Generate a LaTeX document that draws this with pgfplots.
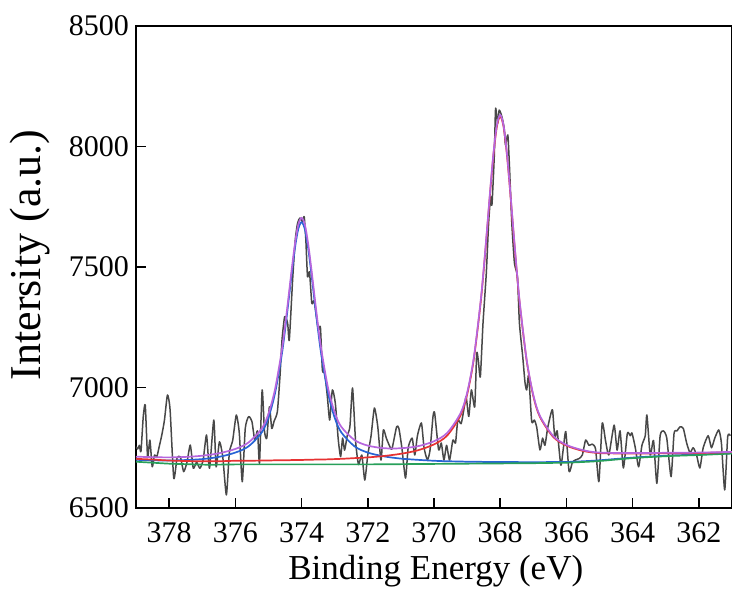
\documentclass[border=0pt]{standalone}
\usepackage{fontspec}
\setmainfont{Liberation Serif}
\usepackage{pgfplots}
\pgfplotsset{compat=1.18}
\usepackage{pgfplotstable}
\definecolor{dataGray}{RGB}{72,72,72}
\definecolor{fitPurple}{RGB}{182,102,222}
\definecolor{fitRed}{RGB}{230,50,50}
\definecolor{fitBlue}{RGB}{40,100,212}
\definecolor{fitGreen}{RGB}{40,160,90}

\pgfplotstableread{
x y
379.00 6754
378.95 6745
378.90 6760
378.85 6735
378.78 6880
378.72 6927
378.65 6713
378.58 6782
378.51 6671
378.44 6720
378.37 6713
378.30 6754
378.22 6803
378.14 6865
378.05 6969
377.97 6907
377.86 6624
377.76 6707
377.66 6712
377.56 6651
377.46 6690
377.36 6761
377.27 6665
377.17 6690
377.07 6665
376.97 6700
376.87 6803
376.78 6665
376.65 6865
376.58 6671
376.48 6775
376.38 6713
376.27 6554
376.18 6730
376.08 6780
375.97 6886
375.88 6811
375.79 6609
375.70 6830
375.60 6879
375.50 6860
375.41 6780
375.33 6820
375.27 6686
375.19 6990
375.12 6820
375.05 6790
374.97 6920
374.90 6830
374.83 6860
374.73 6900
374.65 7050
374.59 7197
374.51 7294
374.42 7267
374.37 7197
374.27 7446
374.19 7612
374.12 7682
374.05 7703
373.97 7688
373.92 7709
373.87 7612
373.82 7460
373.76 7480
373.69 7350
373.62 7360
373.55 7294
373.49 7239
373.43 7250
373.37 7072
373.30 7060
373.22 6962
373.15 6865
373.07 6990
372.98 6935
372.89 6782
372.82 6713
372.76 6790
372.70 6740
372.62 6800
372.54 6837
372.46 6998
372.37 6780
372.28 6680
372.18 6720
372.09 6616
372.00 6720
371.90 6800
371.80 6915
371.70 6840
371.60 6699
371.53 6824
371.44 6790
371.35 6760
371.27 6745
371.13 6837
371.06 6830
370.97 6750
370.86 6624
370.78 6750
370.66 6790
370.58 6720
370.50 6800
370.38 6853
370.30 6750
370.20 6700
370.12 6740
370.03 6879
369.98 6894
369.86 6741
369.78 6770
369.70 6699
369.62 6760
369.53 6699
369.43 6782
369.35 6770
369.28 6865
369.18 6850
369.10 6907
369.03 6962
368.95 6880
368.87 6990
368.77 6920
368.71 7142
368.66 7110
368.60 7045
368.52 7266
368.42 7475
368.35 7682
368.29 7792
368.25 7757
368.18 7958
368.14 8158
368.08 8096
368.03 8151
367.95 8124
367.88 8075
367.84 8006
367.77 8048
367.72 7916
367.65 7682
367.57 7516
367.48 7460
367.42 7267
367.32 7128
367.25 7019
367.20 6990
367.14 7050
367.05 6860
366.97 6865
366.90 6837
366.80 6741
366.72 6790
366.65 6760
366.57 6830
366.49 6880
366.42 6907
366.35 6790
366.28 6820
366.17 6678
366.10 6740
366.02 6817
365.92 6651
365.82 6690
365.72 6700
365.62 6705
365.52 6720
365.42 6782
365.32 6760
365.22 6765
365.12 6745
365.02 6609
364.92 6851
364.82 6780
364.72 6720
364.56 6844
364.47 6740
364.38 6820
364.28 6666
364.16 6810
364.07 6800
364.02 6811
363.92 6750
363.82 6671
363.72 6760
363.62 6800
363.57 6886
363.47 6720
363.37 6780
363.27 6602
363.17 6800
363.07 6820
362.97 6790
362.84 6630
362.75 6810
362.66 6820
362.57 6837
362.47 6830
362.37 6770
362.27 6730
362.17 6750
362.07 6720
361.97 6666
361.87 6750
361.72 6800
361.62 6750
361.52 6790
361.40 6824
361.32 6770
361.22 6575
361.13 6796
361.05 6800
}\rawdata

\pgfplotstableread{
x blue red purple green
379.0 6700 6704 6713 6692
378.5 6698 6701 6711 6688
378.0 6697 6697 6710 6684
377.5 6699 6695 6712 6682
377.0 6703 6694 6717 6680
376.5 6712 6694 6727 6680
376.0 6730 6696 6745 6681
375.6 6756 6696 6772 6681
375.2 6814 6697 6830 6681
375.0 6875 6697 6891 6681
374.8 6977 6698 6993 6681
374.6 7134 6698 7151 6681
374.5 7236 6698 7253 6681
374.4 7350 6698 7368 6681
374.3 7469 6699 7487 6681
374.2 7578 6699 7595 6681
374.1 7657 6699 7675 6681
374.0 7686 6699 7704 6681
373.9 7657 6700 7676 6681
373.8 7578 6700 7596 6681
373.7 7469 6700 7488 6681
373.6 7350 6701 7370 6681
373.5 7236 6701 7256 6681
373.4 7134 6701 7155 6681
373.2 6977 6702 6998 6681
373.0 6875 6703 6897 6681
372.8 6814 6704 6837 6681
372.4 6756 6707 6782 6681
372.0 6730 6710 6759 6681
371.5 6714 6716 6748 6681.5
371.0 6705 6725 6748 6682
370.5 6700 6739 6756 6682.5
370.0 6696 6764 6777 6683
369.6 6694 6801 6812 6683.4
369.2 6693 6884 6893 6683.8
369.0 6692 6970 6978 6684
368.8 6692 7115 7122 6684.2
368.6 6692 7340 7347 6684.4
368.5 6691 7484 7491 6684.5
368.4 6691 7647 7654 6684.6
368.3 6691 7816 7823 6684.7
368.2 6691 7971 7977 6684.8
368.1 6691 8083 8090 6684.9
368.0 6691 8125 8131 6685
367.9 6691 8083 8088 6685.1
367.8 6691 7969 7975 6685.2
367.7 6691 7814 7819 6685.3
367.6 6691 7644 7649 6685.4
367.5 6691 7480 7485 6685.5
367.4 6690 7335 7340 6685.6
367.2 6690 7110 7114 6685.8
367.0 6690 6964 6969 6686
366.8 6690 6878 6882 6686.4
366.4 6691 6795 6799 6687.2
366.0 6691 6759 6762 6688
365.5 6694 6737 6740 6691
365.0 6698 6728 6730 6695
364.0 6709 6726 6728 6707
363.0 6717 6727 6729 6715
362.0 6722 6728 6730 6720
361.0 6727 6732 6733 6726
}\fitdata

\begin{document}
\begin{tikzpicture}
\begin{axis}[
  scale only axis,
  width=298pt, height=241pt,
  x dir=reverse,
  xmin=361, xmax=379, ymin=6500, ymax=8500,
  xtick={362,364,366,368,370,372,374,376,378},
  xticklabels={362,364,366,368,370,372,374,376,378},
  ytick={6500,7000,7500,8000,8500},
  yticklabels={6500,7000,7500,8000,8500},
  tick align=inside,
  major tick length=5pt,
  xtick pos=bottom, ytick pos=left,
  axis line style={line width=1pt},
  every tick/.style={black, line width=0.8pt},
  tick label style={font=\fontsize{15}{17}\selectfont},
  scaled ticks=false,
  xticklabel style={anchor=base, yshift=-17pt},
  xlabel={Binding Energy (eV)},
  ylabel={Intersity (a.u.)},
  xlabel style={font=\fontsize{17.5}{20}\selectfont, at={(axis description cs:0.503,-0.149)}, anchor=base},
  ylabel style={font=\fontsize{22}{24}\selectfont, at={(axis description cs:-0.178,0.525)}, anchor=center},
]
\addplot[dataGray, line width=0.75pt, line join=round, smooth, tension=0.35] table[x=x, y=y] {\rawdata};
\addplot[fitBlue, line width=0.85pt, smooth] table[x=x, y=blue] {\fitdata};
\addplot[fitGreen, line width=0.85pt, smooth] table[x=x, y=green] {\fitdata};
\addplot[fitRed, line width=0.85pt, smooth] table[x=x, y=red] {\fitdata};
\addplot[fitPurple, line width=0.85pt, smooth] table[x=x, y=purple] {\fitdata};
\end{axis}
\pgfresetboundingbox
\path[use as bounding box] ([xshift=-68pt,yshift=-41pt]current axis.south west) rectangle ([yshift=13pt]current axis.north east);
\end{tikzpicture}
\end{document}
